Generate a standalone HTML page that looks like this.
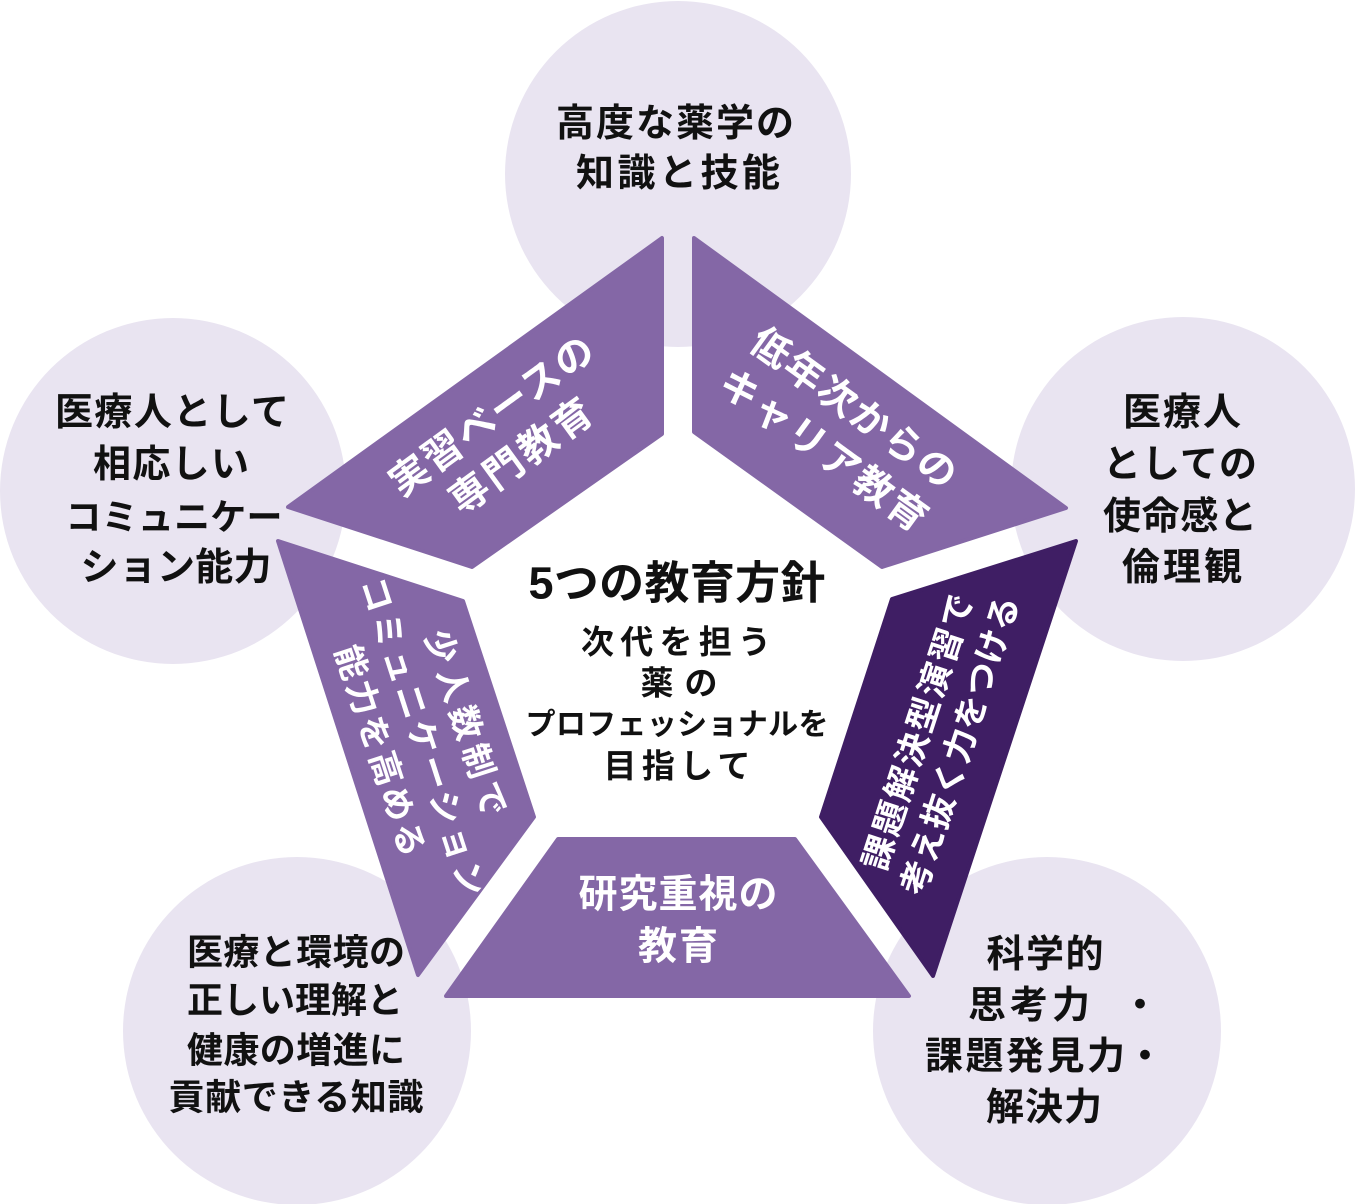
<!DOCTYPE html>
<html lang="ja">
<head>
<meta charset="utf-8">
<style>
  html, body { margin: 0; padding: 0; background: #ffffff; }
  body { width: 1356px; height: 1204px; overflow: hidden; }
  svg { display: block; }
  text {
    font-family: "Liberation Sans", "Noto Sans CJK JP", "Noto Sans CJK SC", sans-serif;
    font-weight: 700;
    dominant-baseline: central;
    text-anchor: middle;
  }
  .dk { fill: #111111; }
  .wt { fill: #ffffff; }
</style>
</head>
<body>
<svg width="1356" height="1204" viewBox="0 0 1356 1204" xmlns="http://www.w3.org/2000/svg">
  <!-- circles -->
  <g fill="#e9e4f1">
    <circle cx="678" cy="174" r="173"/>
    <circle cx="173" cy="491" r="173"/>
    <circle cx="1183" cy="489" r="172"/>
    <circle cx="297" cy="1031" r="174"/>
    <circle cx="1047" cy="1031" r="174"/>
  </g>

  <!-- pentagon segments -->
  <g stroke-linejoin="round" stroke-width="4">
    <polygon points="662,238 662,434 472,567 288,507" fill="#8467a6" stroke="#8467a6"/>
    <polygon points="694,238 1066,508 882,567 694,432" fill="#8467a6" stroke="#8467a6"/>
    <polygon points="1076,541 933,976 821,817 892,599" fill="#3f1e64" stroke="#3f1e64"/>
    <polygon points="278,541 463,601 534,817 418,975" fill="#8467a6" stroke="#8467a6"/>
    <polygon points="558,839 795,839 909,996 446,996" fill="#8467a6" stroke="#8467a6"/>
  </g>

  <!-- top circle -->
  <text class="dk" x="675" y="124" font-size="38" textLength="238" lengthAdjust="spacing">高度な薬学の</text>
  <text class="dk" x="678" y="174" font-size="38" textLength="204" lengthAdjust="spacing">知識と技能</text>

  <!-- left circle -->
  <text class="dk" x="172" y="413" font-size="38" textLength="234" lengthAdjust="spacing">医療人として</text>
  <text class="dk" x="171" y="465" font-size="38" textLength="156" lengthAdjust="spacing">相応しい</text>
  <text class="dk" x="174" y="517" font-size="36" textLength="217" lengthAdjust="spacing">コミュニケー</text>
  <text class="dk" x="176" y="568" font-size="38" textLength="191" lengthAdjust="spacing">ション能力</text>

  <!-- right circle -->
  <text class="dk" x="1182" y="413" font-size="38" textLength="118" lengthAdjust="spacing">医療人</text>
  <text class="dk" x="1180" y="465" font-size="38" textLength="154" lengthAdjust="spacing">としての</text>
  <text class="dk" x="1180" y="517" font-size="38" textLength="154" lengthAdjust="spacing">使命感と</text>
  <text class="dk" x="1182" y="568" font-size="38" textLength="120" lengthAdjust="spacing">倫理観</text>

  <!-- bottom-left circle -->
  <text class="dk" x="296" y="952" font-size="36" textLength="218" lengthAdjust="spacing">医療と環境の</text>
  <text class="dk" x="295" y="1000" font-size="36" textLength="216" lengthAdjust="spacing">正しい理解と</text>
  <text class="dk" x="296" y="1050" font-size="36" textLength="218" lengthAdjust="spacing">健康の増進に</text>
  <text class="dk" x="296" y="1097" font-size="36" textLength="255" lengthAdjust="spacing">貢献できる知識</text>

  <!-- bottom-right circle -->
  <text class="dk" x="1045" y="955" font-size="38" textLength="117" lengthAdjust="spacing">科学的</text>
  <text class="dk" x="968" y="1006" font-size="38" textLength="122" lengthAdjust="spacing" style="text-anchor:start">思考力</text>
  <text class="dk" x="1140" y="1006" font-size="38">・</text>
  <text class="dk" x="925" y="1057" font-size="38" textLength="200" lengthAdjust="spacing" style="text-anchor:start">課題発見力</text>
  <text class="dk" x="1145" y="1057" font-size="38">・</text>
  <text class="dk" x="1044" y="1108" font-size="38" textLength="116" lengthAdjust="spacing">解決力</text>

  <!-- center -->
  <text class="dk" x="677" y="583" font-size="45" textLength="297" lengthAdjust="spacing">5つの教育方針</text>
  <text class="dk" x="676" y="642" font-size="33" textLength="190" lengthAdjust="spacing">次代を担う</text>
  <text class="dk" x="679" y="683" font-size="33" textLength="77" lengthAdjust="spacing">薬の</text>
  <text class="dk" x="677" y="725" font-size="30" textLength="303" lengthAdjust="spacing">プロフェッショナルを</text>
  <text class="dk" x="677" y="766" font-size="33" textLength="147" lengthAdjust="spacing">目指して</text>

  <!-- bottom trapezoid -->
  <text class="wt" x="678" y="895" font-size="39" textLength="199" lengthAdjust="spacing">研究重視の</text>
  <text class="wt" x="678" y="947" font-size="39" textLength="80" lengthAdjust="spacing">教育</text>

  <!-- top-left trapezoid -->
  <g transform="translate(507,437) rotate(-36)">
    <text class="wt" x="0" y="-25" font-size="39" textLength="242" lengthAdjust="spacing">実習ベースの</text>
    <text class="wt" x="0" y="25" font-size="39" textLength="166" lengthAdjust="spacing">専門教育</text>
  </g>

  <!-- top-right trapezoid -->
  <g transform="translate(838,430) rotate(36)">
    <text class="wt" x="0" y="-26" font-size="39" textLength="244" lengthAdjust="spacing">低年次からの</text>
    <text class="wt" x="0" y="26" font-size="39" textLength="246" lengthAdjust="spacing">キャリア教育</text>
  </g>

  <!-- right dark trapezoid -->
  <g transform="translate(940,739) rotate(-72)">
    <text class="wt" x="0" y="-22" font-size="34" textLength="288" lengthAdjust="spacing">課題解決型演習で</text>
    <text class="wt" x="0" y="22" font-size="34" textLength="312" lengthAdjust="spacing">考え抜く力をつける</text>
  </g>

  <!-- left trapezoid -->
  <g transform="translate(422,737) rotate(72)">
    <text class="wt" x="0" y="-45" font-size="34" textLength="194" lengthAdjust="spacing">少人数制で</text>
    <text class="wt" x="0" y="0" font-size="34" textLength="333" lengthAdjust="spacing">コミュニケーション</text>
    <text class="wt" x="0" y="45" font-size="34" textLength="220" lengthAdjust="spacing">能力を高める</text>
  </g>
</svg>
</body>
</html>
